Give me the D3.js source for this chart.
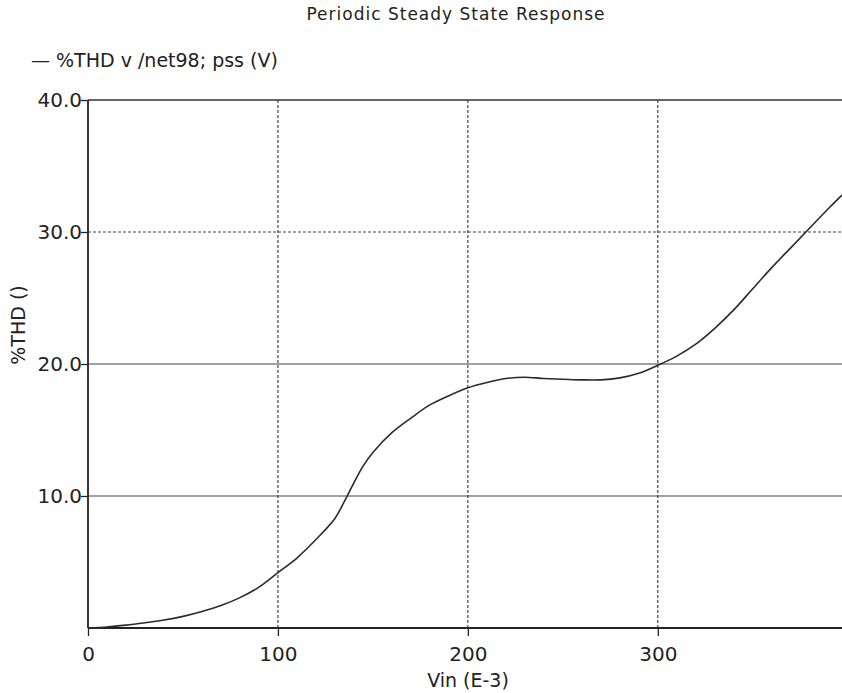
<!DOCTYPE html>
<html>
<head>
<meta charset="utf-8">
<script src="https://cdn.jsdelivr.net/npm/d3@7"></script>
<style>
  body { margin: 0; background: #fff; }
  text { font-family: "DejaVu Sans", Verdana, sans-serif; fill: #222; }
</style>
</head>
<body>
<div id="chart"></div>
<script>
// Vin in E-3 (mV), %THD
var vin = [0, 10, 20, 30, 40, 50, 60, 70, 80, 90, 100, 110, 120, 130, 135, 140, 145, 150,
           160, 170, 180, 190, 200, 210, 220, 230, 240, 250, 260, 270, 280, 290, 300,
           310, 320, 330, 340, 350, 360, 370, 380, 390, 397];
var thd = [0, 0.08, 0.22, 0.4, 0.6, 0.88, 1.25, 1.7, 2.3, 3.1, 4.2, 5.3, 6.7, 8.3, 9.6, 11.0, 12.3, 13.3,
           14.8, 15.9, 16.9, 17.6, 18.2, 18.6, 18.9, 19.0, 18.9, 18.85, 18.8, 18.8, 18.95, 19.3, 19.9,
           20.6, 21.5, 22.7, 24.1, 25.7, 27.3, 28.8, 30.3, 31.8, 32.8];
var xTicks = [0, 100, 200, 300];
var yTicks = [10, 20, 30, 40];
var yTickLabels = ["10.0", "20.0", "30.0", "40.0"];

var width = 842, height = 693,
    margin = {top: 100, right: 0, bottom: 65, left: 88};

var svg = d3.select("#chart").append("svg")
    .attr("width", width)
    .attr("height", height);

var x = d3.scaleLinear()
    .domain([0, 397])
    .range([margin.left, width - margin.right]);

var y = d3.scaleLinear()
    .domain([0, 40])
    .range([height - margin.bottom, margin.top]);

// title and legend
svg.append("text")
    .attr("x", 456)
    .attr("y", 20)
    .attr("text-anchor", "middle")
    .style("font-size", "17px")
    .style("letter-spacing", "1px")
    .text("Periodic Steady State Response");

svg.append("text")
    .attr("x", 31)
    .attr("y", 67)
    .style("font-size", "19px")
    .text("\u2014 %THD v /net98; pss (V)");

// grid
svg.selectAll(".vgrid")
    .data(xTicks.filter(function(d) { return d > 0; }))
    .enter().append("line")
    .attr("class", "vgrid")
    .attr("x1", function(d) { return x(d); })
    .attr("x2", function(d) { return x(d); })
    .attr("y1", y(40))
    .attr("y2", y(0))
    .style("stroke", "#444")
    .style("stroke-width", 1.2)
    .style("stroke-dasharray", "3,2");

svg.selectAll(".hgrid")
    .data(yTicks.filter(function(d) { return d < 40; }))
    .enter().append("line")
    .attr("class", "hgrid")
    .attr("x1", x(0))
    .attr("x2", width)
    .attr("y1", function(d) { return y(d); })
    .attr("y2", function(d) { return y(d); })
    .style("stroke", "#444")
    .style("stroke-width", 1.2)
    .style("stroke-dasharray", function(d) { return d == 30 ? "3,2" : null; });

// top border
svg.append("line")
    .attr("x1", x(0))
    .attr("x2", width)
    .attr("y1", y(40))
    .attr("y2", y(40))
    .style("stroke", "#333")
    .style("stroke-width", 1.5);

// x axis
var xAxis = svg.append("g")
    .attr("transform", "translate(0," + y(0) + ")");

xAxis.call(d3.axisBottom(x).tickValues(d3.range(0, 400, 10)).tickSize(4).tickFormat(""));
xAxis.call(d3.axisBottom(x).tickValues(xTicks).tickSize(8).tickFormat(d3.format("d")));
xAxis.selectAll(".domain").remove();
xAxis.selectAll("line").style("stroke", "#222").style("stroke-width", 1.3);
xAxis.selectAll("text")
    .style("font-size", "20px")
    .style("font-family", "DejaVu Sans, sans-serif")
    .attr("y", 19)
    .attr("fill", "#222");

svg.append("line")
    .attr("x1", x(0))
    .attr("x2", width)
    .attr("y1", y(0))
    .attr("y2", y(0))
    .style("stroke", "#222")
    .style("stroke-width", 1.8);

// y axis
var yAxis = svg.append("g")
    .attr("transform", "translate(" + x(0) + ",0)");

yAxis.call(d3.axisLeft(y).tickValues(d3.range(1, 40, 1)).tickSize(4).tickFormat(""));
yAxis.call(d3.axisLeft(y).tickValues(yTicks).tickSize(7)
    .tickFormat(function(d, i) { return yTickLabels[i]; }));
yAxis.selectAll(".domain").remove();
yAxis.selectAll("line").style("stroke", "#222").style("stroke-width", 1.3);
yAxis.selectAll("text")
    .style("font-size", "20px")
    .style("font-family", "DejaVu Sans, sans-serif")
    .attr("x", -6)
    .attr("fill", "#222");

svg.append("line")
    .attr("x1", x(0))
    .attr("x2", x(0))
    .attr("y1", y(40))
    .attr("y2", y(0))
    .style("stroke", "#222")
    .style("stroke-width", 1.8);

// axis titles
svg.append("text")
    .attr("x", 468)
    .attr("y", 687)
    .attr("text-anchor", "middle")
    .style("font-size", "19px")
    .text("Vin (E-3)");

svg.append("text")
    .attr("transform", "translate(25,325) rotate(-90)")
    .attr("text-anchor", "middle")
    .style("font-size", "19px")
    .text("%THD ()");

// curve
var line = d3.line()
    .x(function(d, i) { return x(vin[i]); })
    .y(function(d) { return y(d); })
    .curve(d3.curveCatmullRom);

svg.append("path")
    .datum(thd)
    .attr("d", line)
    .style("fill", "none")
    .style("stroke", "#2a2a2a")
    .style("stroke-width", 1.6);
</script>
</body>
</html>
